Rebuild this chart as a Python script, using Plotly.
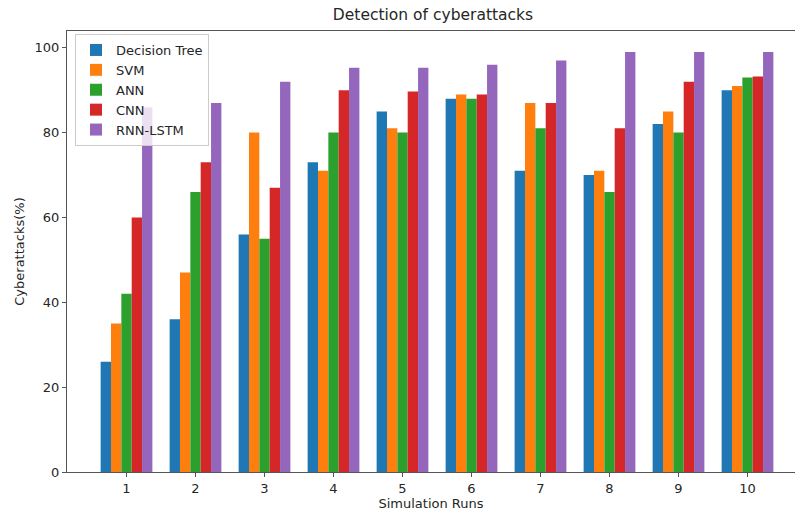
import plotly.graph_objects as go

runs = [1, 2, 3, 4, 5, 6, 7, 8, 9, 10]
decision_tree = [26, 36, 56, 73, 85, 88, 71, 70, 82, 90]
svm = [35, 47, 80, 71, 81, 89, 87, 71, 85, 91]
ann = [42, 66, 55, 80, 80, 88, 81, 66, 80, 93]
cnn = [60, 73, 67, 90, 89.7, 89, 87, 81, 92, 93.2]
rnn_lstm = [86, 87, 92, 95.3, 95.3, 96, 97, 99, 99, 99]

series = [
    ("Decision Tree", decision_tree, "#1f77b4"),
    ("SVM", svm, "#ff7f0e"),
    ("ANN", ann, "#2ca02c"),
    ("CNN", cnn, "#d62728"),
    ("RNN-LSTM", rnn_lstm, "#9467bd"),
]

fig = go.Figure()
for name, vals, color in series:
    fig.add_trace(go.Bar(x=runs, y=vals, name=name, marker=dict(color=color, line=dict(width=0))))

font = "DejaVu Sans"
txt = "#262626"
fig.update_layout(
    width=795, height=512,
    margin=dict(l=67, r=0, t=31, b=40, autoexpand=False),
    paper_bgcolor="white", plot_bgcolor="white",
    barmode="group", bargap=0.25, bargroupgap=0,
    font=dict(family=font, size=13, color=txt),
    title=dict(text="Detection of cyberattacks", x=433/795, xanchor="center",
               y=1 - 15/512, yanchor="middle", font=dict(size=15.5, color=txt)),
    legend=dict(x=8/728, y=1 - 3/441, xanchor="left", yanchor="top",
                bgcolor="rgba(255,255,255,0.8)", bordercolor="#cccccc", borderwidth=1,
                font=dict(size=13, color=txt), tracegroupgap=0),
    xaxis=dict(range=[0.1375, 0.1375 + 728 / 69], tickmode="array", tickvals=runs,
               ticktext=[str(r) for r in runs], showgrid=False, zeroline=False,
               showline=True, linecolor="#555555", linewidth=1.2, mirror=True,
               ticks="outside", ticklen=4, tickcolor="#555555", automargin=False,
               title=dict(text="Simulation Runs", standoff=2, font=dict(size=13))),
    yaxis=dict(range=[0, 103.95], tickvals=[0, 20, 40, 60, 80, 100], showgrid=False,
               zeroline=False, showline=True, linecolor="#555555", linewidth=1.2,
               ticks="outside", ticklen=4, tickcolor="#555555", automargin=False,
               title=dict(text="Cyberattacks(%)", standoff=6, font=dict(size=13))),
)

fig.write_html("out.html", config={"displayModeBar": False},
               post_script="document.body.style.margin='0px';document.body.style.overflow='hidden';")
